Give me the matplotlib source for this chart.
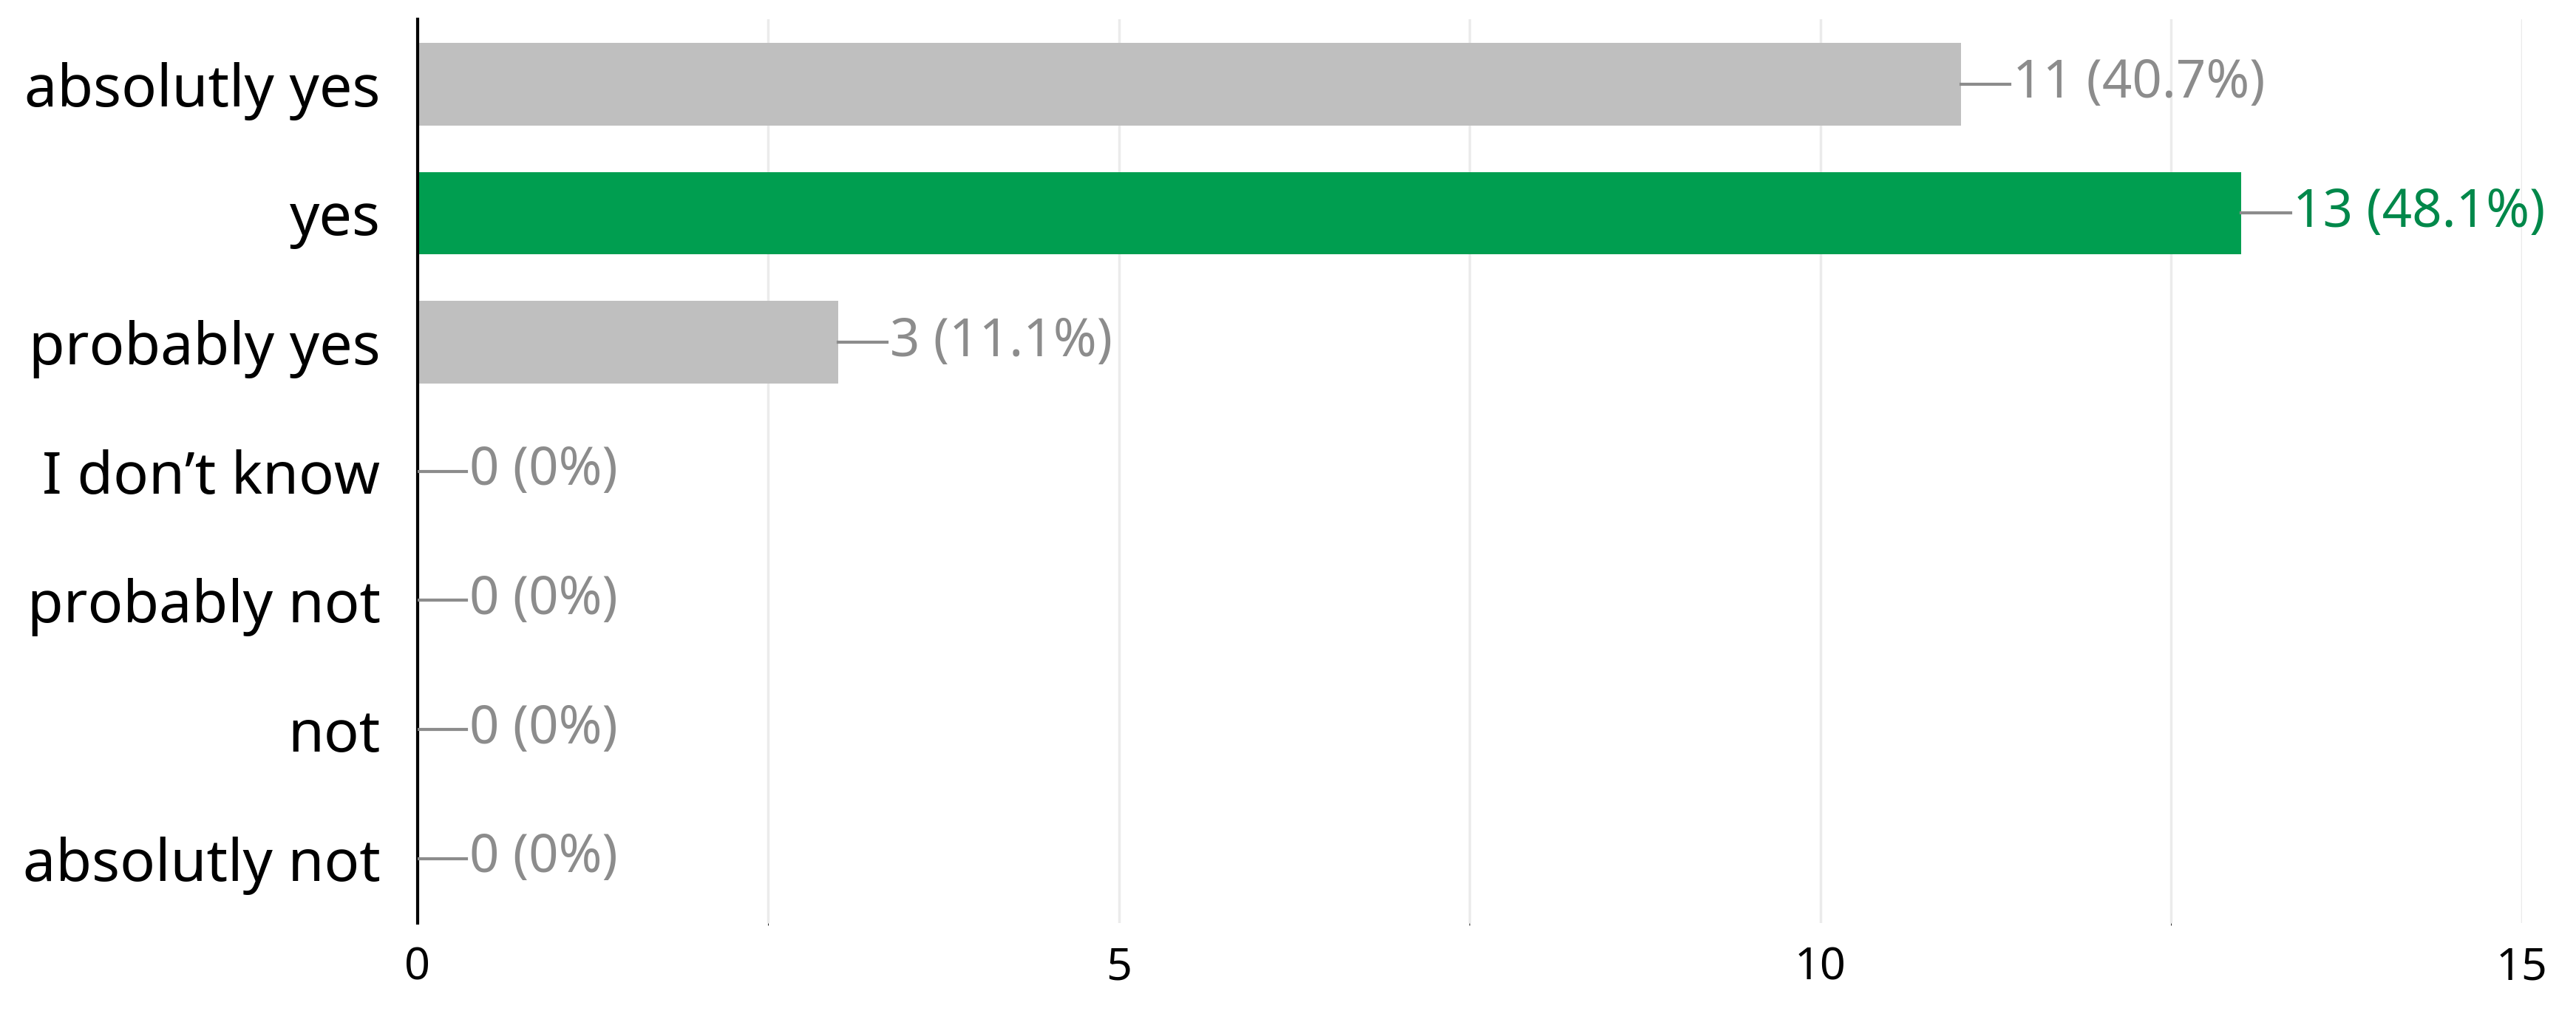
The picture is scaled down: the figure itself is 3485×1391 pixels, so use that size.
import matplotlib.pyplot as plt

categories = ["absolutly yes", "yes", "probably yes", "I don\u2019t know",
              "probably not", "not", "absolutly not"]
counts = [11, 13, 3, 0, 0, 0, 0]
percents = ["40.7%", "48.1%", "11.1%", "0%", "0%", "0%", "0%"]
highlight = 1

plt.rcParams["font.family"] = ["Noto Sans", "DejaVu Sans"]

fig = plt.figure(figsize=(34.85, 13.91), dpi=100)
ax = fig.add_axes([0.162, 0.102, 0.817, 0.879])

y = list(range(len(categories)))
colors = ["#009e50" if i == highlight else "#bfbfbf" for i in y]
ax.barh(y, counts, height=0.64, color=colors, zorder=2)

for i, (c, p) in enumerate(zip(counts, percents)):
    tc = "#00884a" if i == highlight else "#8c8c8c"
    ax.plot([c, c + 0.35], [i, i], color="#8c8c8c", lw=3, zorder=3)
    ax.text(c + 0.37, i, f"{c} ({p})", va="center", ha="left",
            fontsize=51, color=tc)

ax.set_xlim(0, 15)
ax.set_ylim(len(categories) - 0.5, -0.5)
ax.set_xticks([0, 5, 10, 15])
ax.set_xticks([2.5, 7.5, 12.5], minor=True)
ax.grid(axis="x", which="both", color="#ebebeb", lw=2.5, zorder=0)
ax.set_yticks(y)
ax.set_yticklabels(categories, fontsize=57)
ax.tick_params(axis="x", labelsize=44, length=0, pad=22)
ax.tick_params(axis="y", length=0, pad=36)
for s in ["top", "right", "bottom"]:
    ax.spines[s].set_visible(False)
ax.spines["left"].set_linewidth(3)

fig.savefig("out.png", dpi=100)
